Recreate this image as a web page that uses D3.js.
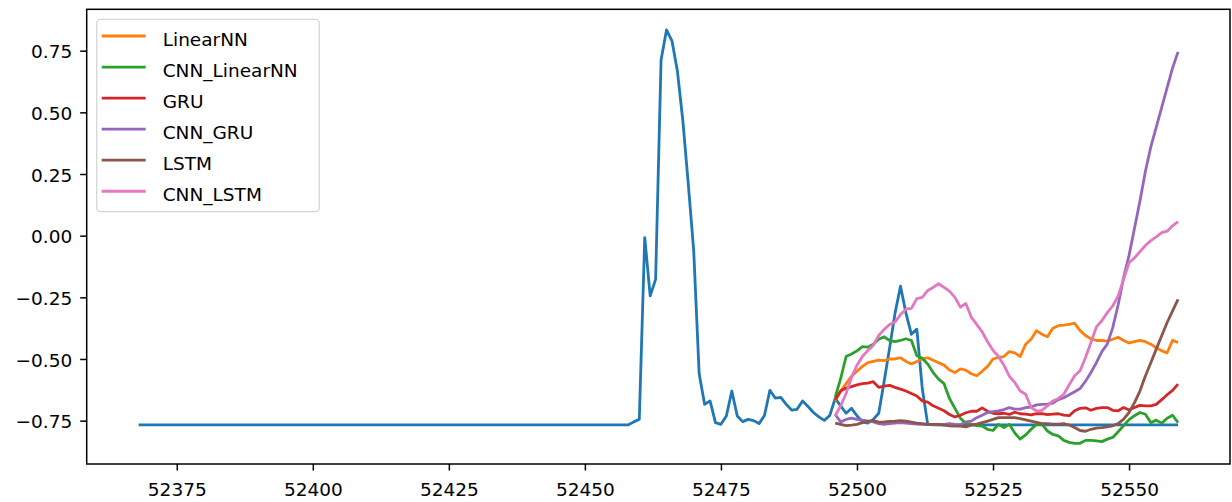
<!DOCTYPE html>
<html>
<head>
<meta charset="utf-8">
<script src="https://cdn.jsdelivr.net/npm/d3@7"></script>
<style>
  body { margin: 0; background: #fff; }
  text { font-family: "DejaVu Sans", sans-serif; }
</style>
</head>
<body>
<svg id="chart" width="1232" height="502"></svg>
<script>
// actual series, one value per step starting at actualStart
const actualStart = 52368
const actualValues = [
  -0.767,-0.767,-0.767,-0.767,-0.767,-0.767,-0.767,-0.767,-0.767,-0.767,
  -0.767,-0.767,-0.767,-0.767,-0.767,-0.767,-0.767,-0.767,-0.767,-0.767,
  -0.767,-0.767,-0.767,-0.767,-0.767,-0.767,-0.767,-0.767,-0.767,-0.767,
  -0.767,-0.767,-0.767,-0.767,-0.767,-0.767,-0.767,-0.767,-0.767,-0.767,
  -0.767,-0.767,-0.767,-0.767,-0.767,-0.767,-0.767,-0.767,-0.767,-0.767,
  -0.767,-0.767,-0.767,-0.767,-0.767,-0.767,-0.767,-0.767,-0.767,-0.767,
  -0.767,-0.767,-0.767,-0.767,-0.767,-0.767,-0.767,-0.767,-0.767,-0.767,
  -0.767,-0.767,-0.767,-0.767,-0.767,-0.767,-0.767,-0.767,-0.767,-0.767,
  -0.767,-0.767,-0.767,-0.767,-0.767,-0.767,-0.767,-0.767,-0.767,-0.767,
  // 52458
  -0.767,-0.755,-0.744,-0.008,-0.244,-0.177,0.712,0.834,0.79,0.668,
  0.466,0.21,-0.062,-0.56,-0.684,-0.67,-0.758,-0.765,-0.731,-0.63,
  -0.731,-0.754,-0.745,-0.75,-0.762,-0.729,-0.627,-0.659,-0.656,-0.684,
  -0.707,-0.704,-0.67,-0.693,-0.717,-0.735,-0.749,-0.729,-0.66,-0.69,
  -0.72,-0.70,-0.73,-0.755,-0.76,-0.745,-0.72,-0.59,-0.455,-0.314,
  -0.205,-0.314,-0.40,-0.379,-0.62,-0.765,
  // 52514
  -0.767,-0.767,-0.767,-0.767,-0.767,-0.767,-0.767,-0.767,-0.767,-0.767,
  -0.767,-0.767,-0.767,-0.767,-0.767,-0.767,-0.767,-0.767,-0.767,-0.767,
  -0.767,-0.767,-0.767,-0.767,-0.767,-0.767,-0.767,-0.767,-0.767,-0.767,
  -0.767,-0.767,-0.767,-0.767,-0.767,-0.767,-0.767,-0.767,-0.767,-0.767,
  -0.767,-0.767,-0.767,-0.767,-0.767,-0.767
]

// predictions start here
const predStart = 52496
const linearNN = [
  -0.67,-0.63,-0.60,-0.57,-0.55,-0.53,-0.515,-0.51,-0.505,-0.507,
  -0.50,-0.50,-0.495,-0.51,-0.52,-0.51,-0.50,-0.495,-0.505,-0.515,
  -0.525,-0.545,-0.555,-0.54,-0.545,-0.56,-0.568,-0.55,-0.53,-0.50,
  -0.494,-0.49,-0.47,-0.475,-0.49,-0.44,-0.42,-0.385,-0.40,-0.41,
  -0.375,-0.365,-0.363,-0.36,-0.355,-0.385,-0.405,-0.418,-0.425,-0.425,
  -0.428,-0.42,-0.412,-0.425,-0.435,-0.43,-0.425,-0.43,-0.44,-0.455,
  -0.467,-0.475,-0.424,-0.433
]
const cnnLinearNN = [
  -0.655,-0.58,-0.49,-0.48,-0.467,-0.45,-0.452,-0.44,-0.42,-0.41,
  -0.425,-0.43,-0.425,-0.418,-0.425,-0.487,-0.497,-0.52,-0.555,-0.582,
  -0.60,-0.66,-0.70,-0.74,-0.76,-0.765,-0.77,-0.772,-0.785,-0.79,
  -0.765,-0.778,-0.765,-0.80,-0.825,-0.808,-0.785,-0.765,-0.765,-0.792,
  -0.806,-0.812,-0.83,-0.838,-0.842,-0.842,-0.83,-0.83,-0.832,-0.835,
  -0.825,-0.818,-0.795,-0.77,-0.746,-0.73,-0.717,-0.724,-0.758,-0.748,
  -0.76,-0.74,-0.728,-0.758
]
const gru = [
  -0.665,-0.63,-0.618,-0.612,-0.605,-0.60,-0.598,-0.592,-0.615,-0.61,
  -0.607,-0.615,-0.622,-0.63,-0.64,-0.65,-0.67,-0.675,-0.69,-0.70,
  -0.71,-0.725,-0.735,-0.728,-0.718,-0.712,-0.712,-0.698,-0.712,-0.72,
  -0.722,-0.72,-0.725,-0.716,-0.722,-0.724,-0.727,-0.722,-0.722,-0.726,
  -0.724,-0.722,-0.728,-0.73,-0.71,-0.70,-0.698,-0.708,-0.70,-0.697,
  -0.697,-0.708,-0.71,-0.697,-0.707,-0.697,-0.688,-0.69,-0.69,-0.684,
  -0.665,-0.645,-0.627,-0.602
]
const cnnGru = [
  -0.725,-0.755,-0.745,-0.74,-0.745,-0.748,-0.752,-0.755,-0.762,-0.765,
  -0.762,-0.76,-0.758,-0.76,-0.762,-0.764,-0.765,-0.766,-0.765,-0.767,
  -0.765,-0.762,-0.765,-0.767,-0.755,-0.752,-0.738,-0.728,-0.717,-0.713,
  -0.71,-0.705,-0.697,-0.703,-0.703,-0.697,-0.695,-0.686,-0.684,-0.683,
  -0.679,-0.665,-0.657,-0.645,-0.633,-0.62,-0.59,-0.555,-0.515,-0.47,
  -0.44,-0.373,-0.28,-0.17,-0.08,0.03,0.14,0.26,0.36,0.44,
  0.52,0.60,0.68,0.745
]
const lstm = [
  -0.76,-0.765,-0.77,-0.768,-0.765,-0.758,-0.752,-0.75,-0.756,-0.755,
  -0.753,-0.752,-0.75,-0.752,-0.756,-0.76,-0.762,-0.765,-0.765,-0.765,
  -0.768,-0.771,-0.772,-0.772,-0.775,-0.768,-0.764,-0.758,-0.752,-0.745,
  -0.738,-0.738,-0.738,-0.738,-0.742,-0.747,-0.752,-0.757,-0.762,-0.762,
  -0.764,-0.764,-0.762,-0.768,-0.778,-0.79,-0.793,-0.785,-0.78,-0.778,
  -0.775,-0.771,-0.762,-0.744,-0.717,-0.677,-0.63,-0.569,-0.515,-0.46,
  -0.406,-0.352,-0.305,-0.258
]
const cnnLstm = [
  -0.73,-0.69,-0.64,-0.575,-0.525,-0.49,-0.465,-0.445,-0.405,-0.38,
  -0.36,-0.35,-0.32,-0.298,-0.295,-0.255,-0.25,-0.222,-0.21,-0.195,
  -0.21,-0.225,-0.25,-0.29,-0.275,-0.33,-0.36,-0.39,-0.43,-0.465,
  -0.49,-0.525,-0.57,-0.595,-0.63,-0.643,-0.697,-0.711,-0.708,-0.69,
  -0.67,-0.66,-0.643,-0.605,-0.568,-0.548,-0.494,-0.433,-0.37,-0.345,
  -0.312,-0.285,-0.244,-0.177,-0.11,-0.09,-0.065,-0.04,-0.02,-0.005,
  0.012,0.018,0.04,0.057
]

const seriesNames = ["LinearNN","CNN_LinearNN","GRU","CNN_GRU","LSTM","CNN_LSTM"]
const seriesValues = [linearNN, cnnLinearNN, gru, cnnGru, lstm, cnnLstm]
const seriesColors = ["#ff7f0e","#2ca02c","#d62728","#9467bd","#8c564b","#e377c2"]
const actualColor = "#1f77b4"

const xTicks = [52375,52400,52425,52450,52475,52500,52525,52550]
const yTicks = [-0.75,-0.5,-0.25,0,0.25,0.5,0.75]

// layout
const plot = {left:86.7, right:1230, top:9.3, bottom:464}
const fs = 18.5

const svg = d3.select("#chart")

const actual = actualValues.map((v,i) => [actualStart+i, v])
const preds = seriesValues.map(arr => arr.map((v,i) => [predStart+i, v]))

const allX = actual.map(d => d[0])
const allY = actual.map(d => d[1]).concat(...seriesValues)
const xExt = d3.extent(allX), yExt = d3.extent(allY)
const xPad = (xExt[1]-xExt[0])*0.05, yPad = (yExt[1]-yExt[0])*0.05

const x = d3.scaleLinear().domain([xExt[0]-xPad, xExt[1]+xPad]).range([plot.left, plot.right])
const y = d3.scaleLinear().domain([yExt[0]-yPad, yExt[1]+yPad]).range([plot.bottom, plot.top])

const line = d3.line().x(d => x(d[0])).y(d => y(d[1]))

svg.append("path")
  .datum(actual)
  .attr("d", line)
  .attr("fill","none")
  .attr("stroke", actualColor)
  .attr("stroke-width", 2.8)
  .attr("stroke-linejoin","round")

preds.forEach((p,i) => {
  svg.append("path")
    .datum(p)
    .attr("d", line)
    .attr("fill","none")
    .attr("stroke", seriesColors[i])
    .attr("stroke-width", 2.8)
    .attr("stroke-linejoin","round")
})

// axes
const xAxis = svg.append("g")
  .attr("transform", `translate(0,${plot.bottom})`)
  .call(d3.axisBottom(x).tickValues(xTicks).tickSize(6.5).tickFormat(d3.format("d")))
xAxis.select(".domain").remove()
xAxis.selectAll("line").attr("stroke","#000").attr("stroke-width",1.5)
xAxis.selectAll("text")
  .attr("y", 32).attr("dy", 0)
  .attr("fill","#000")
  .style("font-size", fs+"px")
  .style("font-family","DejaVu Sans")

const yAxis = svg.append("g")
  .attr("transform", `translate(${plot.left},0)`)
  .call(d3.axisLeft(y).tickValues(yTicks).tickSize(6.5)
    .tickFormat(d => d3.format(".2f")(d).replace("-","\u2212")))
yAxis.select(".domain").remove()
yAxis.selectAll("line").attr("stroke","#000").attr("stroke-width",1.5)
yAxis.selectAll("text")
  .attr("x", -14.5).attr("dy","0.38em")
  .attr("fill","#000")
  .style("font-size", fs+"px")
  .style("font-family","DejaVu Sans")

// frame
svg.append("rect")
  .attr("x", plot.left).attr("y", plot.top)
  .attr("width", plot.right-plot.left).attr("height", plot.bottom-plot.top)
  .attr("fill","none").attr("stroke","#000").attr("stroke-width",1.5)

// legend
const lg = svg.append("g")
lg.append("rect")
  .attr("x",96.7).attr("y",19.3).attr("width",222.6).attr("height",192.4)
  .attr("rx",3.7)
  .attr("fill","#fff").attr("fill-opacity",0.8)
  .attr("stroke","#d6d6d6").attr("stroke-width",1.3)

seriesNames.forEach((name,i) => {
  const cy = 36 + i*31.05
  lg.append("line")
    .attr("x1",101.7).attr("x2",145.7).attr("y1",cy).attr("y2",cy)
    .attr("stroke",seriesColors[i]).attr("stroke-width",2.8)
  lg.append("text")
    .attr("x",162.7).attr("y",cy+10)
    .attr("fill","#000")
    .style("font-size", fs+"px")
    .text(name)
})
</script>
</body>
</html>
